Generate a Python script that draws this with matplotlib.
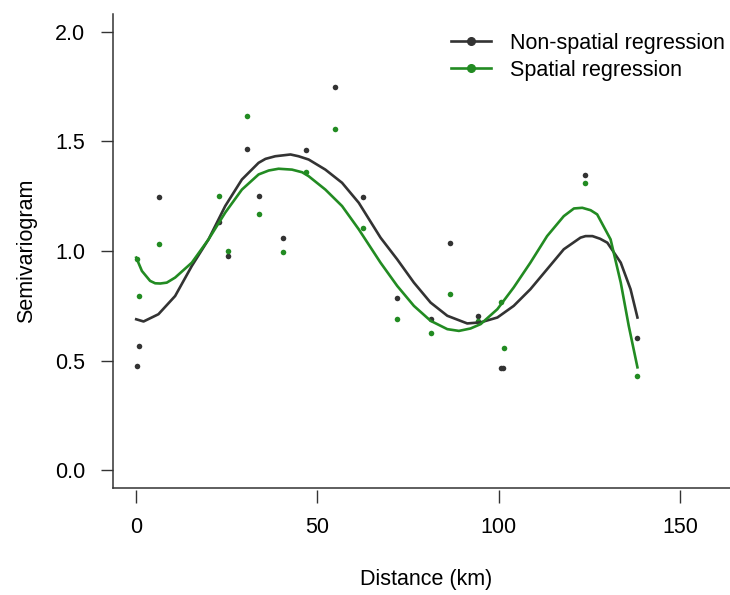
import matplotlib
matplotlib.use("Agg")
import matplotlib.pyplot as plt

plt.rcParams['font.family'] = ['Liberation Sans', 'DejaVu Sans']

# semivariogram points (distance in km)
dist = [0.28, 0.72, 6.34, 22.97, 25.26, 30.70, 34.0, 40.43, 46.88, 54.77,
        62.60, 71.98, 81.25, 86.68, 94.21, 100.6, 101.2, 123.8, 138.2]
gamma_nonsp = [0.476, 0.565, 1.245, 1.132, 0.977, 1.465, 1.25, 1.059, 1.461, 1.749,
               1.247, 0.786, 0.688, 1.038, 0.703, 0.467, 0.465, 1.347, 0.602]
dist_sp = [0.28, 0.72, 6.34, 22.97, 25.26, 30.70, 34.0, 40.43, 46.88, 54.77,
           62.60, 71.98, 81.25, 86.68, 94.21, 100.66, 101.3, 123.8, 138.2]
gamma_sp = [0.965, 0.795, 1.03, 1.249, 1.0, 1.614, 1.168, 0.997, 1.361, 1.558,
            1.106, 0.690, 0.625, 0.802, 0.680, 0.768, 0.556, 1.311, 0.432]

# fitted smooth curves
fit_x_nonsp = [0.08, 2.1, 6.2, 10.8, 15.4, 20.0, 24.6, 29.2, 33.8, 35.7, 38.4, 42.6,
               44.8, 47.6, 52.2, 56.8, 61.4, 67.4, 72.0, 76.6, 81.2, 85.8, 91.3,
               95.0, 99.6, 104.1, 108.7, 113.3, 117.9, 122.5, 123.9, 125.8, 127.9,
               129.9, 133.6, 136.3, 138.2]
fit_y_nonsp = [0.689, 0.679, 0.712, 0.795, 0.932, 1.053, 1.205, 1.326, 1.402, 1.42,
               1.432, 1.44, 1.432, 1.417, 1.371, 1.311, 1.22, 1.061, 0.962, 0.856,
               0.765, 0.705, 0.670, 0.675, 0.697, 0.75, 0.826, 0.917, 1.008, 1.061,
               1.068, 1.068, 1.056, 1.038, 0.947, 0.826, 0.697]
fit_x_sp = [0.08, 1.65, 3.9, 5.3, 6.7, 8.5, 10.8, 15.4, 20.0, 24.6, 29.2, 33.8,
            36.6, 39.3, 43.0, 45.8, 47.6, 52.2, 56.8, 61.4, 67.4, 72.0, 76.6, 81.2,
            85.8, 89.0, 92.2, 95.0, 99.6, 104.1, 108.7, 113.3, 117.9, 120.7, 123.0,
            125.3, 127.1, 130.8, 133.6, 135.8, 138.2]
fit_y_sp = [0.970, 0.909, 0.864, 0.853, 0.852, 0.856, 0.879, 0.947, 1.053, 1.175,
            1.28, 1.349, 1.367, 1.375, 1.371, 1.359, 1.341, 1.28, 1.205, 1.099,
            0.947, 0.841, 0.75, 0.682, 0.644, 0.636, 0.647, 0.667, 0.735, 0.834,
            0.947, 1.068, 1.159, 1.194, 1.197, 1.186, 1.167, 1.053, 0.856, 0.659,
            0.47]

xticks = [0, 50, 100, 150]
yticks = [0.0, 0.5, 1.0, 1.5, 2.0]

dark = '#333333'
green = '#228B22'
fs = 15.5
lw = 1.9

fig = plt.figure(figsize=(7.3, 5.95), dpi=100)
ax = fig.add_axes([0.1544, 0.1798, 0.859, 0.7966])

ax.plot(dist, gamma_nonsp, 'o', color=dark, ms=4, mec='none')
ax.plot(dist_sp, gamma_sp, 'o', color=green, ms=4, mec='none')
ax.plot(fit_x_nonsp, fit_y_nonsp, '-', color=dark, lw=lw, solid_joinstyle='round')
ax.plot(fit_x_sp, fit_y_sp, '-', color=green, lw=lw, solid_joinstyle='round')

ax.set_xlim(-6.4, 166.4)
ax.set_ylim(-0.08, 2.08)

for s in ['top', 'right']:
    ax.spines[s].set_visible(False)
for s in ['left', 'bottom']:
    ax.spines[s].set_color(dark)
    ax.spines[s].set_linewidth(1.1)

ax.set_yticks(yticks)
ax.set_yticklabels([f"{v:.1f}" for v in yticks])
ax.tick_params(axis='y', length=8.6, width=1.0, color=dark, pad=11, labelsize=fs)
ax.set_xticks([])

# x ticks sit slightly below the box line, as in R
sec = ax.secondary_xaxis(-0.0045)
sec.set_xticks(xticks)
sec.set_xticklabels([str(v) for v in xticks])
for s in sec.spines.values():
    s.set_visible(False)
sec.tick_params(axis='x', length=9.5, width=1.0, color=dark, pad=10, labelsize=fs)

ax.set_ylabel('Semivariogram', fontsize=fs, va='center')
ax.yaxis.set_label_coords(-0.1367, 0.5)
ax.set_xlabel('Distance (km)', fontsize=fs, va='center')
ax.xaxis.set_label_coords(0.5, -0.194)

h1, = ax.plot([], [], '-o', color=dark, lw=lw, ms=5.5)
h2, = ax.plot([], [], '-o', color=green, lw=lw, ms=5.5)
ax.legend([h1, h2], ['Non-spatial regression', 'Spatial regression'],
          loc='upper left', bbox_to_anchor=(451 / 730, 1 - 33 / 595),
          bbox_transform=fig.transFigure, frameon=False, fontsize=fs,
          handlelength=1.85, handletextpad=0.88, labelspacing=0.27,
          borderpad=0, borderaxespad=0)

fig.savefig('out.png', dpi=100)
